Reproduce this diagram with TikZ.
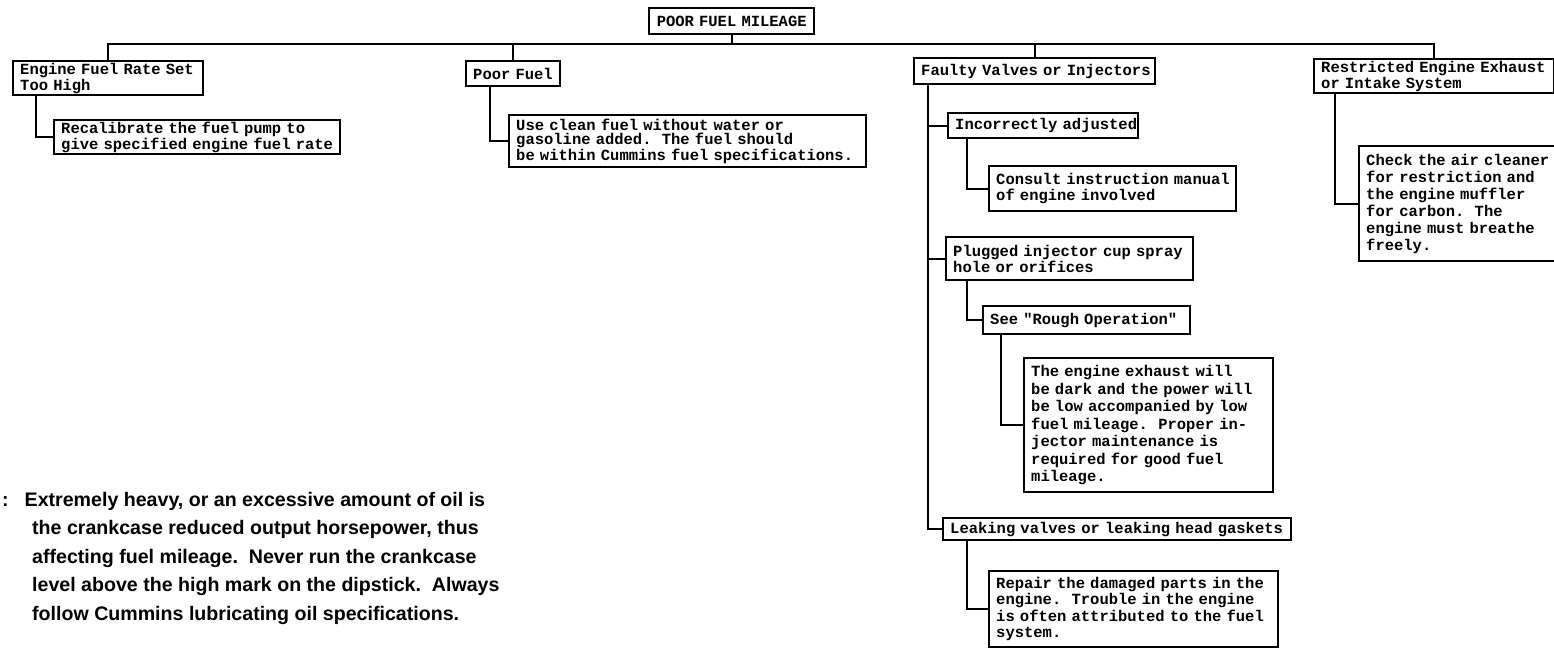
\documentclass[tikz,border=0pt]{standalone}
\usepackage{fontspec}
\setmainfont{Liberation Sans}
\newfontfamily\typew{Liberation Mono}
\newcommand\tl[1]{\mbox{#1}}
\begin{document}
\begin{tikzpicture}[x=1pt,y=-1pt,
  bx/.style={draw, line width=2.4pt, anchor=north west, inner xsep=7pt, inner ysep=1pt,
    align=left, font=\typew\bfseries\fontsize{15.5}{16}\selectfont},
  lsk/.style={font=\typew\bfseries\fontsize{15.5}{#1}\selectfont},
  ln/.style={line width=2.2pt, line join=miter},
  note/.style={anchor=north west, inner sep=0pt, align=left,
    font=\bfseries\fontsize{19.6}{28.5}\selectfont}]
\useasboundingbox (0,0) rectangle (1554,649);

% top
\node[bx, text width=151pt, minimum height=26pt, align=center] (title) at (648,7) {\tl{POOR FUEL MILEAGE}};
\coordinate (bus) at (0,44);

% column 1
\node[bx, text width=176pt, minimum height=34pt] (engine) at (12,60) {\tl{Engine Fuel Rate Set}\\\tl{Too High}};
\node[bx, text width=272pt, minimum height=34pt] (recal) at (53,119) {\tl{Recalibrate the fuel pump to}\\\tl{give specified engine fuel rate}};

% column 2
\node[bx, text width=80pt, minimum height=25pt] (poor) at (465,60) {\tl{Poor Fuel}};
\node[bx, lsk=14, text width=343pt, minimum height=52pt] (clean) at (508,114) {\tl{Use clean fuel without water or}\\\tl{gasoline added.\ \ The fuel should}\\\tl{be within Cummins fuel specifications.}};

% column 3
\node[bx, text width=227pt, minimum height=26pt] (faulty) at (913,57) {\tl{Faulty Valves or Injectors}};
\node[bx, text width=176pt, minimum height=25pt] (incorr) at (947,112) {\tl{Incorrectly adjusted}};
\node[bx, text width=233pt, minimum height=45pt] (consult) at (988,165) {\tl{Consult instruction manual}\\\tl{of engine involved}};
\node[bx, text width=233pt, minimum height=43pt] (plug) at (945,236) {\tl{Plugged injector cup spray}\\\tl{hole or orifices}};
\node[bx, text width=193pt, minimum height=28pt] (see) at (982,305) {\tl{See "Rough Operation"}};
\node[bx, lsk=17.5, text width=235pt, minimum height=134pt] (exh) at (1023,357) {\tl{The engine exhaust will}\\\tl{be dark and the power will}\\\tl{be low accompanied by low}\\\tl{fuel mileage.\ \ Proper in-}\\\tl{jector maintenance is}\\\tl{required for good fuel}\\\tl{mileage.}};
\node[bx, text width=334pt, minimum height=22pt] (leak) at (942,517) {\tl{Leaking valves or leaking head gaskets}};
\node[bx, lsk=16.5, text width=275pt, minimum height=76pt] (repair) at (988,570) {\tl{Repair the damaged parts in the}\\\tl{engine.\ \ Trouble in the engine}\\\tl{is often attributed to the fuel}\\\tl{system.}};

% column 4
\node[bx, text width=226pt, minimum height=34pt] (restr) at (1313,58) {\tl{Restricted Engine Exhaust}\\\tl{or Intake System}};
\node[bx, lsk=17, text width=186pt, minimum height=115pt] (check) at (1358,145) {\tl{Check the air cleaner}\\\tl{for restriction and}\\\tl{the engine muffler}\\\tl{for carbon.\ \ The}\\\tl{engine must breathe}\\\tl{freely.}};

% note
\node[note] (notetext) at (2,492) {:\hspace{16pt}Extremely heavy, or an excessive amount of oil is\\
\hspace*{30pt}the crankcase reduced output horsepower, thus\\
\hspace*{30pt}affecting fuel mileage.\ \ Never run the crankcase\\
\hspace*{30pt}level above the high mark on the dipstick.\ \ Always\\
\hspace*{30pt}follow Cummins lubricating oil specifications.};

% connectors
\draw[ln] (title.south) -- (title.south |- bus);
\draw[ln] (engine.north) -- (engine.north |- bus) -- (restr.north |- bus) -- (restr.north);
\draw[ln] (poor.north) -- (poor.north |- bus);
\draw[ln] (faulty.north) -- (faulty.north |- bus);

\draw[ln] ([xshift=24pt]engine.south west) |- (recal.west);
\draw[ln] ([xshift=25pt]poor.south west) |- (clean.west);
\draw[ln] ([xshift=15pt]faulty.south west) |- (leak.west);
\draw[ln] ([xshift=15pt]faulty.south west) |- (incorr.west);
\draw[ln] ([xshift=15pt]faulty.south west) |- (plug.west);
\draw[ln] ([xshift=20pt]incorr.south west) |- (consult.west);
\draw[ln] ([xshift=22pt]plug.south west) |- (see.west);
\draw[ln] ([xshift=19pt]see.south west) |- (exh.west);
\draw[ln] ([xshift=25pt]leak.south west) |- (repair.west);
\draw[ln] ([xshift=22pt]restr.south west) |- (check.west);
\end{tikzpicture}
\end{document}
